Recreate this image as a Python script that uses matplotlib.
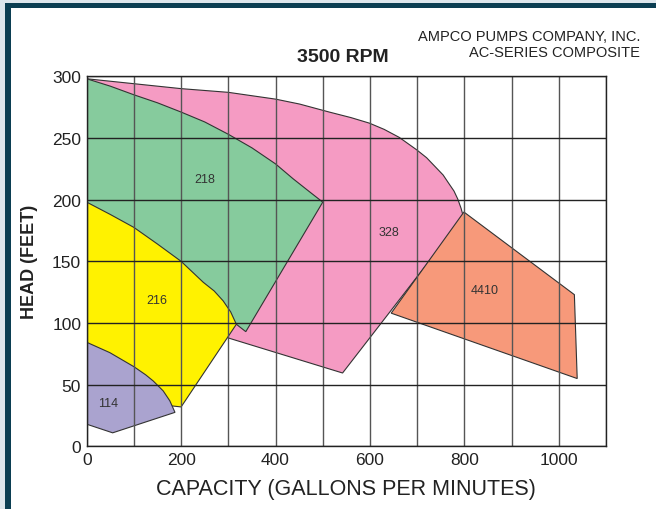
import matplotlib.pyplot as plt
import matplotlib.patches as patches
from matplotlib.patches import Polygon

plt.rcParams["font.family"] = ["Liberation Sans", "DejaVu Sans"]

# pump curve envelopes (capacity gpm, head ft)
pink_x = [0, 100, 200, 300, 400, 451, 514, 560, 599, 630, 662, 699, 720, 740, 755, 768, 778, 786, 793, 798, 542, 299]
pink_y = [298, 294, 290, 287, 281.5, 277.5, 271, 266.5, 262, 257, 250.5, 240.4, 234, 226, 220, 212.6, 207, 200.5, 193, 186, 59.5, 88]
green_x = [0, 50, 100, 150, 200, 250, 300, 350, 400, 437, 470, 500, 337, 317, 0]
green_y = [298, 292, 285, 278.5, 271, 263, 253, 242, 229, 217, 207, 198, 93, 99, 150]
yellow_x = [0, 50, 100, 150, 200, 247, 270, 289, 305, 317, 200, 176, 0]
yellow_y = [198, 188, 177.5, 164, 150, 133, 126, 118, 109, 99, 32, 33, 60]
purple_x = [0, 49, 100, 125, 141, 162, 176, 187, 55, 0]
purple_y = [84.4, 76, 64.6, 58, 53, 45, 37, 27.6, 11, 18]
orange_x = [645, 799, 1033, 1039]
orange_y = [108, 190, 123, 55]

models = ["328", "218", "216", "114", "4410"]
label_x = [641, 250, 149, 45, 842]
label_y = [174, 217, 119, 35, 127]

xticks = [0, 200, 400, 600, 800, 1000]
yticks = [0, 50, 100, 150, 200, 250, 300]

colors = ["#f59bc3", "#86cb9d", "#fff200", "#aaa3cf", "#f7997a"]

fig = plt.figure(figsize=(6.56, 5.10), dpi=100)

# page border
fig.patches.append(patches.Rectangle((0, 0), 1, 1, transform=fig.transFigure,
                                     facecolor="#dde6ec", edgecolor="none", zorder=-3))
fig.patches.append(patches.Rectangle((5 / 656, 0), 1, 1 - 4 / 510, transform=fig.transFigure,
                                     facecolor="#0b3e52", edgecolor="none", zorder=-2))
fig.patches.append(patches.Rectangle((11 / 656, 0), 1, 1 - 9 / 510, transform=fig.transFigure,
                                     facecolor="white", edgecolor="none", zorder=-1))

ax = fig.add_axes([86.7 / 656, 1 - 447.4 / 510, (606 - 86.7) / 656, (447.4 - 77.3) / 510])
ax.set_facecolor("none")

shapes = [(pink_x, pink_y), (green_x, green_y), (yellow_x, yellow_y),
          (purple_x, purple_y), (orange_x, orange_y)]
for (xs, ys), c in zip(shapes, colors):
    ax.add_patch(Polygon(list(zip(xs, ys)), closed=True, facecolor=c,
                         edgecolor="#333333", linewidth=0.8, zorder=1))

for name, lx, ly in zip(models, label_x, label_y):
    ax.text(lx, ly, name, ha="center", va="center", fontsize=9, color="#333333", zorder=4)

ax.set_xlim(0, 1100)
ax.set_ylim(0, 300)
ax.set_xticks(xticks)
ax.set_yticks(yticks)
ax.set_xticks(range(0, 1101, 100), minor=True)
ax.tick_params(which="both", length=0, labelsize=12.5, pad=4, labelcolor="#222222")
ax.grid(which="both", axis="x", color="#555555", linewidth=1.0, zorder=3)
ax.grid(which="major", axis="y", color="#222222", linewidth=1.0, zorder=3)
ax.set_axisbelow(False)
for s in ax.spines.values():
    s.set_linewidth(1.0)
    s.set_color("#222222")
    s.set_zorder(5)

ax.set_xlabel("CAPACITY (GALLONS PER MINUTES)", fontsize=15.5, color="#222222", labelpad=8)
ax.set_ylabel("HEAD (FEET)", fontsize=13, fontweight="bold", color="#222222", labelpad=10)

fig.text(343 / 656, 1 - 58 / 510, "3500 RPM", ha="center", va="center",
         fontsize=14, fontweight="bold", color="#222222")
fig.text(640 / 656, 1 - 37 / 510, "AMPCO PUMPS COMPANY, INC.", ha="right", va="center",
         fontsize=10.5, color="#222222")
fig.text(640 / 656, 1 - 53 / 510, "AC-SERIES COMPOSITE", ha="right", va="center",
         fontsize=10.5, color="#222222")

fig.savefig("out.png", dpi=100)
